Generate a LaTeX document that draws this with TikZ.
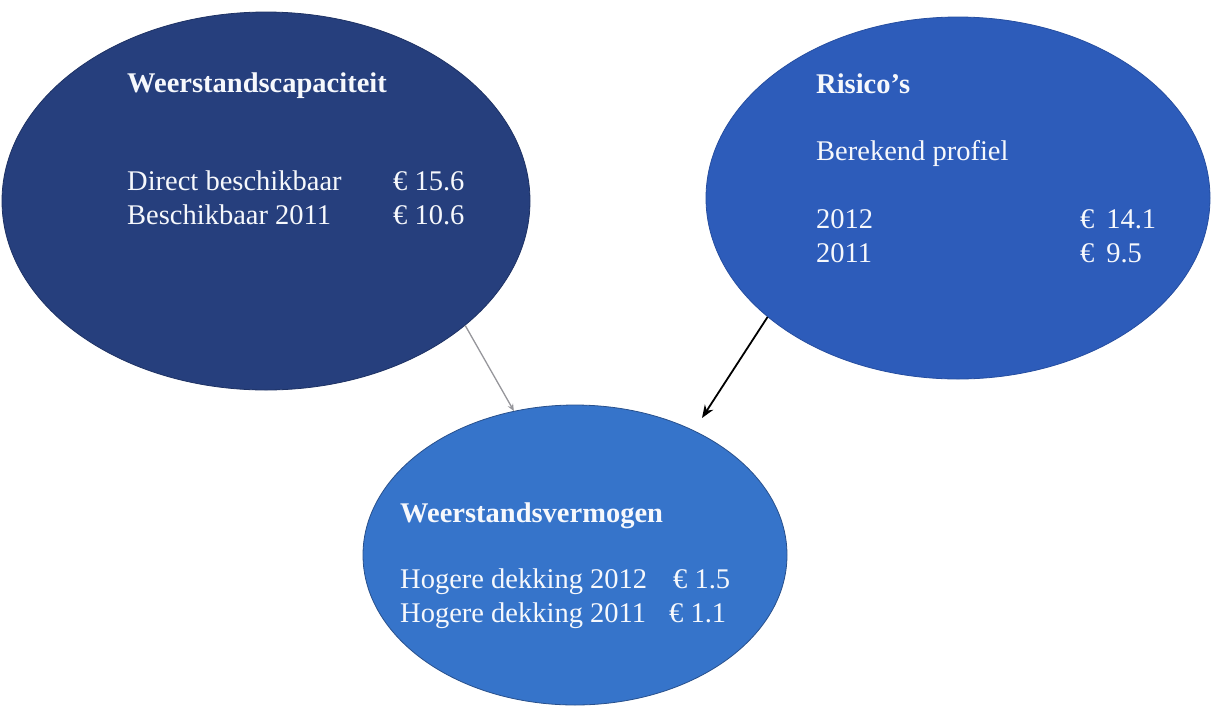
\documentclass[tikz,border=0pt]{standalone}
\usepackage{fontspec}
\setmainfont{Liberation Serif}
\usetikzlibrary{shapes.geometric,arrows.meta}
\definecolor{navyfill}{RGB}{38,63,125}
\definecolor{navyline}{RGB}{30,50,100}
\definecolor{midfill}{RGB}{45,92,186}
\definecolor{midline}{RGB}{38,78,160}
\definecolor{lightfill}{RGB}{54,116,202}
\definecolor{lightline}{RGB}{40,80,140}
\definecolor{txt}{RGB}{246,248,252}
\definecolor{greyarr}{RGB}{150,150,155}
\tikzset{
  blob/.style={ellipse, inner sep=0pt, line width=0.8pt},
  lbl/.style={anchor=base west, inner sep=0pt, text=txt, font=\fontsize{28.5}{34}\selectfont},
  ttl/.style={lbl, font=\fontsize{28.5}{34}\selectfont\bfseries},
  greyconn/.style={draw=greyarr, line width=1.3pt, -{Stealth[length=7pt,width=6pt]}},
  blackconn/.style={draw=black, line width=1.8pt, -{Stealth[length=13pt,width=10pt]}}
}
\begin{document}
\begin{tikzpicture}[x=1pt,y=-1pt]
\useasboundingbox (0,0) rectangle (1211,705);
% ellipses
\node[blob, fill=navyfill, draw=navyline, minimum width=528pt, minimum height=378pt] (L) at (266,201) {};
\node[blob, fill=midfill, draw=midline, minimum width=504pt, minimum height=362pt] (R) at (958,198) {};
\node[blob, fill=lightfill, draw=lightline, minimum width=424pt, minimum height=300pt] (B) at (575,555) {};
% left texts
\node[ttl] (lt) at (127,92) {Weerstandscapaciteit};
\node[lbl] (l1) at (127,190) {Direct beschikbaar};
\node[lbl] (l2) at (127,224) {Beschikbaar 2011};
\node[lbl] (l1v) at (393,190) {€ 15.6};
\node[lbl] (l2v) at (393,224) {€ 10.6};
% right texts
\node[ttl] (rt) at (816,93) {Risico’s};
\node[lbl] (rs) at (816,160) {Berekend profiel};
\node[lbl] (r1) at (816,228) {2012};
\node[lbl] (r2) at (816,262) {2011};
\node[lbl] (r1v) at (1080,228) {€ \,14.1};
\node[lbl] (r2v) at (1080,262) {€ \,9.5};
% bottom texts
\node[ttl] (bt) at (400,522) {Weerstandsvermogen};
\node[lbl] (b1) at (400,588) {Hogere dekking 2012};
\node[lbl] (b2) at (400,622) {Hogere dekking 2011};
\node[lbl] (b1v) at (673,588) {€ 1.5};
\node[lbl] (b2v) at (669,622) {€ 1.1};
% connectors
\coordinate (tipR) at (702,418);
\draw[greyconn] (L.-32.2) -- (B.113.4);
\draw[blackconn] (R.-148.5) -- (tipR);
\end{tikzpicture}
\end{document}
